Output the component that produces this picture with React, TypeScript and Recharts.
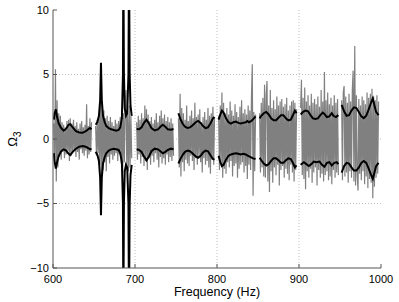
import React from 'react';
import { LineChart, Line, XAxis, YAxis, CartesianGrid } from 'recharts';

const xTicks = [600, 700, 800, 900, 1000];
const yTicks = [-10, -5, 0, 5, 10];

// first frequency (Hz) of each measured band; gray samples are 1 Hz apart
const segmentStarts = [601, 652, 702, 753, 802, 852, 902, 952];

const gray1 = [1.2, -1.5, 5.4, -3.3, 3.0, -2.2, 2.0, -1.4, 1.8, -1.6, 1.3, -1.0, 1.1, -1.5, 0.9, -1.2, 1.4, -0.9, 1.5, -1.7, 1.6, -1.3, 1.2, -1.1, 1.5, -0.9, 1.0, -1.4, 1.3, -1.0, 0.8, -1.6, 1.2, -0.8, 1.4, -1.1, 0.9, -1.3, 1.1, -0.9, 2.7, -1.5, 1.0, -1.2, 1.6, -1.0, 1.3];
const gray2 = [1.0, -1.3, 1.5, -1.1, 1.8, -2.0, 3.3, -2.8, 2.9, -2.4, 2.2, -1.8, 1.6, -2.5, 1.8, -1.4, 1.4, -1.9, 1.7, -1.2, 1.3, -1.6, 1.0, -1.3, 1.5, -1.1, 1.2, -1.7, 1.4, -1.2, 1.7, -1.9, 2.2, -2.6, 2.0, -1.8, 2.4, 3.8, -2.3, 2.0, -2.5, 2.6, -2.2, 1.8, -1.5];
const gray3 = [1.3, -1.6, 1.8, -1.2, 1.5, -1.9, 2.0, -1.4, 1.6, -2.1, 2.6, -1.7, 2.3, -2.4, 1.9, -1.5, 1.4, -2.0, 1.7, -1.3, 1.2, -1.8, 1.5, -1.1, 2.0, -1.6, 1.3, -2.2, 1.8, -1.4, 2.2, -1.9, 1.6, -1.5, 1.9, -2.0, 1.4, -1.2, 1.7, -1.8, 1.3, -1.4, 1.6, -1.7, 1.2, -1.3];
const gray4 = [1.6, -2.2, 3.5, -2.9, 2.4, -1.8, 2.0, -2.5, 1.5, -1.6, 2.6, -1.9, 1.4, -2.1, 1.8, -1.3, 2.2, -1.7, 1.6, -2.4, 2.8, -1.5, 1.7, -2.0, 1.9, -1.4, 2.3, -1.8, 1.3, -2.6, 1.7, -1.5, 2.1, -2.0, 1.5, -1.7, 2.4, -2.2, 1.8, -2.7, 2.0, -1.6, 2.5, -2.0, 1.7];
const gray5 = [1.8, -2.4, 2.6, -2.0, 3.6, -3.0, 2.8, -2.3, 2.0, -2.7, 2.4, -1.8, 1.9, -2.2, 2.9, -1.7, 2.2, -2.9, 1.8, -2.1, 2.7, -1.9, 2.1, -3.0, 1.7, -2.3, 2.5, -2.0, 3.0, -1.8, 2.0, -2.6, 2.3, -2.1, 1.9, -3.1, 2.6, -2.0, 2.2, -2.4, 3.2, 5.8, -4.4, 2.1, -2.5, 1.9];
const gray6 = [2.0, -2.6, 2.8, -2.2, 3.2, -2.9, 4.2, -3.0, 3.4, 4.5, -3.3, 2.6, -4.1, 3.8, -2.5, 2.4, -3.4, 3.0, -2.2, 2.3, -2.8, 3.3, -2.0, 2.6, -3.6, 2.9, -2.4, 3.1, -2.1, 2.5, -3.0, 2.7, -2.3, 3.2, -2.7, 2.2, -3.2, 2.6, -2.0, 2.9, -2.6, 3.0, -3.3, 2.8, -2.4, 2.3];
const gray7 = [2.4, 4.6, -2.8, 3.2, -3.1, 4.0, -3.9, 2.9, -2.5, 3.4, -3.0, 2.6, -2.3, 3.5, -3.4, 2.8, -2.6, 3.1, -2.2, 2.7, -3.6, 3.3, -2.4, 2.5, -3.0, 3.8, -2.7, 2.9, -3.3, 5.2, -2.8, 3.0, -2.5, 3.6, -3.2, 2.7, -2.9, 3.2, -3.5, 2.6, -2.4, 3.4, -3.0, 2.8, -2.6, 3.1, -2.8];
const gray8 = [3.0, -3.2, 3.6, 4.1, -2.9, 3.3, -2.6, 2.8, -3.4, 3.5, -2.5, 2.9, -3.0, 3.8, 5.3, -3.3, 7.2, -3.6, 3.4, -2.8, -4.0, 3.1, -2.7, 2.6, -3.2, 3.3, -2.5, 3.0, -3.5, 2.7, -2.9, 3.6, -3.8, 3.2, -3.1, 3.5, -3.4, 3.9, -4.6, 3.3, -3.7, 3.0, -3.0, 3.4, -2.7, 2.9];
const graySegments = [gray1, gray2, gray3, gray4, gray5, gray6, gray7, gray8];

// [frequency, bound] pairs of the black upper / lower bounds
const upper1 = [[601, 1.5], [602, 2.0], [603.5, 2.3], [605, 1.7], [607, 1.2], [610, 0.85], [613, 0.65], [616, 0.8], [619, 1.1], [621, 1.15], [624, 0.9], [628, 0.6], [632, 0.5], [636, 0.48], [640, 0.6], [643, 0.75], [645, 0.85], [647, 0.75]];
const lower1 = [[601, -1.1], [602, -1.8], [603.5, -2.3], [605, -1.8], [607, -1.3], [610, -0.95], [613, -0.8], [616, -0.9], [619, -1.15], [621, -1.25], [624, -1.0], [628, -0.75], [632, -0.6], [636, -0.55], [640, -0.6], [643, -0.7], [645, -0.8], [647, -0.75]];
const upper2 = [[652, 1.1], [654, 1.3], [656, 1.8], [657.5, 3.0], [658.5, 5.9], [659.5, 3.0], [661, 1.8], [663, 1.3], [665, 1.0], [668, 0.85], [671, 0.75], [674, 0.7], [677, 0.65], [680, 0.7], [682, 0.9], [684, 1.6], [685.3, 5], [685.8, 14], [686.5, 5], [687.5, 2.4], [689, 1.8], [690.5, 2.0], [692, 5], [692.7, 14], [693.5, 5], [694.5, 2.6], [696, 1.8]];
const lower2 = [[652, -1.0], [654, -1.2], [656, -1.7], [657.5, -3.0], [658.5, -5.9], [659.5, -3.0], [661, -1.9], [663, -1.4], [665, -1.1], [668, -0.9], [671, -0.8], [674, -0.75], [677, -0.8], [680, -0.85], [682, -1.1], [684, -1.8], [685.3, -5], [685.8, -14], [686.5, -5], [687.5, -2.5], [689, -2.0], [690.5, -2.2], [692, -5], [692.7, -14], [693.5, -5], [694.5, -2.8], [696, -2.0]];
const upper3 = [[702, 0.77], [705, 0.75], [708, 0.9], [711, 1.25], [714, 1.5], [717, 1.2], [720, 0.85], [724, 0.66], [728, 0.75], [731, 0.95], [734, 1.1], [737, 0.95], [740, 0.75], [744, 0.72], [747, 0.78]];
const lower3 = [[702, -0.8], [705, -0.85], [708, -1.0], [711, -1.35], [714, -1.65], [717, -1.35], [720, -0.95], [724, -0.75], [728, -0.8], [731, -0.95], [734, -1.1], [737, -1.0], [740, -0.85], [744, -0.75], [747, -0.8]];
const upper4 = [[753, 2.0], [755, 1.6], [758, 1.2], [761, 0.95], [764, 0.85], [767, 0.9], [770, 1.05], [774, 1.3], [777, 1.4], [780, 1.25], [783, 1.0], [786, 0.85], [789, 0.9], [792, 1.2], [795, 1.6], [797, 1.7]];
const lower4 = [[753, -1.9], [755, -1.6], [758, -1.25], [761, -1.0], [764, -0.9], [767, -0.95], [770, -1.1], [774, -1.35], [777, -1.45], [780, -1.3], [783, -1.05], [786, -0.9], [789, -0.95], [792, -1.25], [795, -1.55], [797, -1.6]];
const upper5 = [[802, 1.5], [804, 1.9], [806, 2.2], [808, 2.05], [811, 1.6], [814, 1.3], [817, 1.2], [820, 1.3], [823, 1.35], [826, 1.25], [829, 1.2], [832, 1.25], [835, 1.3], [837, 1.4], [839, 1.3], [842, 1.4], [845, 1.6], [847, 1.75]];
const lower5 = [[802, -1.3], [804, -1.8], [806, -2.1], [808, -2.0], [811, -1.6], [814, -1.3], [817, -1.2], [820, -1.15], [823, -1.1], [826, -1.15], [829, -1.2], [832, -1.15], [835, -1.2], [838, -1.3], [841, -1.4], [844, -1.5], [847, -1.55]];
const upper6 = [[852, 1.6], [854, 1.8], [857, 2.0], [860, 2.1], [863, 1.9], [866, 1.6], [869, 1.45], [872, 1.45], [875, 1.65], [878, 1.85], [881, 1.85], [884, 1.6], [887, 1.45], [890, 1.5], [893, 1.9], [895, 2.2], [897, 2.0]];
const lower6 = [[852, -1.45], [854, -1.65], [857, -1.9], [860, -2.05], [863, -1.95], [866, -1.7], [869, -1.5], [872, -1.5], [875, -1.65], [878, -1.85], [881, -1.85], [884, -1.65], [887, -1.5], [890, -1.55], [893, -1.9], [895, -2.2], [897, -2.05]];
const upper7 = [[902, 1.9], [905, 2.1], [908, 2.2], [911, 2.15], [914, 1.85], [917, 1.6], [920, 1.55], [923, 1.6], [926, 1.85], [929, 2.05], [931, 1.95], [934, 1.7], [937, 1.75], [940, 2.0], [942, 1.8], [945, 1.7], [948, 1.85]];
const lower7 = [[902, -2.0], [906, -1.8], [909, -1.95], [912, -2.1], [915, -1.95], [918, -1.75], [921, -1.8], [925, -1.75], [928, -2.0], [931, -2.15], [934, -1.85], [937, -1.8], [940, -2.05], [943, -1.85], [946, -1.8], [948, -1.95]];
const upper8 = [[952, 2.65], [955, 2.15], [958, 1.8], [961, 1.85], [964, 2.2], [967, 2.45], [970, 2.4], [973, 2.1], [976, 1.75], [979, 1.62], [982, 1.8], [985, 2.3], [988, 2.85], [990, 3.15], [992, 2.6], [994, 2.1], [997, 1.85]];
const lower8 = [[952, -2.6], [955, -2.1], [958, -1.85], [961, -1.9], [964, -2.2], [967, -2.45], [970, -2.45], [973, -2.2], [976, -1.85], [979, -1.7], [982, -1.85], [985, -2.3], [988, -2.8], [990, -3.1], [992, -2.6], [994, -2.1], [997, -1.85]];

const upperSegments = [upper1, upper2, upper3, upper4, upper5, upper6, upper7, upper8];
const lowerSegments = [lower1, lower2, lower3, lower4, lower5, lower6, lower7, lower8];

type Pt = { f: number; v: number | null };

function buildGray(): Pt[] {
  const out: Pt[] = [];
  graySegments.forEach((seg, i) => {
    const start = segmentStarts[i];
    seg.forEach((v, j) => out.push({ f: start + j, v }));
    out.push({ f: start + seg.length + 1, v: null });
  });
  return out;
}

function buildBound(segs: number[][][]): Pt[] {
  const out: Pt[] = [];
  segs.forEach((seg) => {
    seg.forEach(([f, v]) => out.push({ f, v }));
    out.push({ f: seg[seg.length - 1][0] + 1, v: null });
  });
  return out;
}

const grayData = buildGray();
const upperData = buildBound(upperSegments);
const lowerData = buildBound(lowerSegments);

const FONT = '"Liberation Sans", Arial, Helvetica, sans-serif';
const AXIS = '#555555';

const fmt = (v: number) => String(v).replace('-', '\u2212');

const YLabel = (props: any) => {
  const vb = props.viewBox || { x: 0, y: 10, width: 53, height: 258 };
  const cx = vb.x + 17;
  const cy = vb.y + vb.height / 2;
  return (
    <text
      x={cx}
      y={cy}
      transform={`rotate(-90, ${cx}, ${cy})`}
      textAnchor="middle"
      fontFamily={FONT}
      fontSize={13}
      fill="#000"
    >
      Ω<tspan fontSize={10} dy={4}>3</tspan>
    </text>
  );
};

export default function App() {
  return (
    <div style={{ position: 'absolute', left: 0, top: 0, background: '#fff' }}>
      <LineChart
        width={399}
        height={302}
        margin={{ top: 10, right: 18, bottom: 0, left: 0 }}
      >
        <CartesianGrid
          stroke="#bdbdbd"
          strokeDasharray="1 2"
          verticalValues={[700, 800, 900]}
          horizontalValues={[-5, 0, 5]}
        />
        <XAxis
          xAxisId={0}
          dataKey="f"
          type="number"
          domain={[600, 1000]}
          ticks={xTicks}
          allowDataOverflow
          height={34}
          stroke={AXIS}
          tickSize={-4}
          tickMargin={11}
          tick={{ fill: '#000', fontSize: 11, fontFamily: FONT }}
          label={{
            value: 'Frequency (Hz)',
            position: 'insideBottom',
            offset: 6,
            fill: '#000',
            fontSize: 12.5,
            fontFamily: FONT,
          }}
        />
        <XAxis
          xAxisId="top"
          orientation="top"
          type="number"
          domain={[600, 1000]}
          ticks={xTicks}
          allowDataOverflow
          height={0}
          stroke={AXIS}
          tickSize={-4}
          tick={() => <g />}
        />
        <YAxis
          yAxisId={0}
          type="number"
          domain={[-10, 10]}
          ticks={yTicks}
          allowDataOverflow
          width={53}
          stroke={AXIS}
          tickSize={-4}
          tickMargin={8}
          tickFormatter={fmt}
          tick={{ fill: '#000', fontSize: 11, fontFamily: FONT }}
          label={<YLabel />}
        />
        <YAxis
          yAxisId="right"
          orientation="right"
          type="number"
          domain={[-10, 10]}
          ticks={yTicks}
          allowDataOverflow
          width={0}
          stroke={AXIS}
          tickSize={-4}
          tick={() => <g />}
        />
        <Line
          data={grayData}
          dataKey="v"
          stroke="#808080"
          strokeWidth={1.2}
          dot={false}
          connectNulls={false}
          isAnimationActive={false}
        />
        <Line
          data={upperData}
          dataKey="v"
          stroke="#000"
          strokeWidth={2}
          dot={false}
          connectNulls={false}
          isAnimationActive={false}
        />
        <Line
          data={lowerData}
          dataKey="v"
          stroke="#000"
          strokeWidth={2}
          dot={false}
          connectNulls={false}
          isAnimationActive={false}
        />
      </LineChart>
    </div>
  );
}
